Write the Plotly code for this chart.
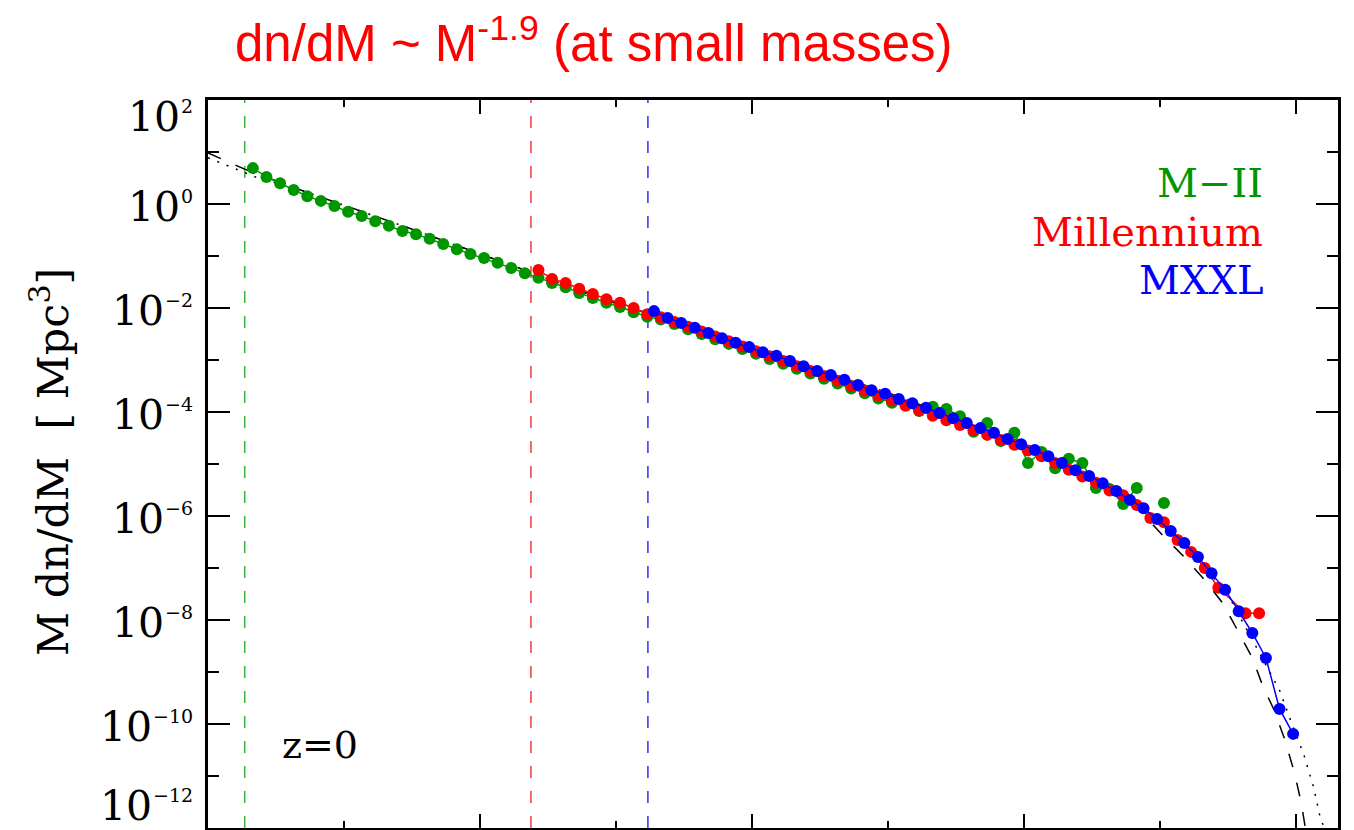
import plotly.graph_objects as go

# ---------------- data (log10 values) ----------------
green_logM = [8.33, 8.43, 8.53, 8.63, 8.73, 8.83, 8.93, 9.03, 9.13, 9.23, 9.33, 9.43,
              9.53, 9.63, 9.73, 9.83, 9.93, 10.03, 10.13, 10.23, 10.33, 10.43, 10.53, 10.63,
              10.73, 10.83, 10.93, 11.03, 11.13, 11.23, 11.33, 11.43, 11.53, 11.63, 11.73,
              11.83, 11.93, 12.03, 12.13, 12.23, 12.33, 12.43, 12.53, 12.63, 12.73, 12.83,
              12.93, 13.03, 13.13, 13.23, 13.33, 13.43, 13.53, 13.63, 13.73, 13.83, 13.93,
              14.03, 14.13, 14.23, 14.33, 14.43, 14.53, 14.63, 14.73, 14.83, 14.93, 15.03]
green_logy = [0.69, 0.52, 0.40, 0.27, 0.15, 0.06, -0.04, -0.15, -0.23, -0.33, -0.42, -0.52,
              -0.58, -0.67, -0.77, -0.87, -0.96, -1.04, -1.13, -1.23, -1.33, -1.42, -1.52, -1.60,
              -1.71, -1.81, -1.90, -1.98, -2.08, -2.17, -2.22, -2.31, -2.41, -2.50, -2.60,
              -2.69, -2.79, -2.88, -2.98, -3.07, -3.17, -3.26, -3.36, -3.45, -3.55, -3.64,
              -3.74, -3.82, -3.87, -3.98, -3.90, -3.94, -4.08, -4.38, -4.21, -4.56, -4.40,
              -4.98, -4.77, -5.08, -4.90, -4.98, -5.46, -5.48, -5.77, -5.46, None, -5.75]

red_logM = [10.43, 10.53, 10.63, 10.73, 10.83, 10.93, 11.03, 11.13, 11.23, 11.33, 11.43,
            11.53, 11.63, 11.73, 11.83, 11.93, 12.03, 12.13, 12.23, 12.33, 12.43, 12.53,
            12.63, 12.73, 12.83, 12.93, 13.03, 13.13, 13.23, 13.33, 13.43, 13.53, 13.63,
            13.73, 13.83, 13.93, 14.03, 14.13, 14.23, 14.33, 14.43, 14.53, 14.63, 14.73,
            14.83, 14.93, 15.03, 15.13, 15.23, 15.33, 15.43, 15.63, 15.73]
red_logy = [-1.27, -1.44, -1.52, -1.63, -1.73, -1.83, -1.90, -2.00, -2.12, -2.18, -2.27,
            -2.36, -2.45, -2.55, -2.64, -2.74, -2.83, -2.93, -3.02, -3.12, -3.21, -3.31,
            -3.40, -3.50, -3.59, -3.69, -3.78, -3.88, -3.97, -4.07, -4.16, -4.25, -4.35,
            -4.44, -4.54, -4.63, -4.74, -4.85, -4.98, -5.11, -5.24, -5.36, -5.51, -5.60,
            -5.79, -6.04, -6.12, -6.46, -6.69, -7.00, -7.38, -7.87, -7.87]

blue_logM = [11.28, 11.38, 11.48, 11.58, 11.68, 11.78, 11.88, 11.98, 12.08, 12.18, 12.28,
             12.38, 12.48, 12.58, 12.68, 12.78, 12.88, 12.98, 13.08, 13.18, 13.28, 13.38,
             13.48, 13.58, 13.68, 13.78, 13.88, 13.98, 14.08, 14.18, 14.28, 14.38, 14.48,
             14.58, 14.68, 14.78, 14.88, 14.98, 15.08, 15.18, 15.28, 15.38, 15.48, 15.58,
             15.68, 15.78, 15.88, 15.98]
blue_logy = [-2.06, -2.19, -2.29, -2.38, -2.48, -2.58, -2.67, -2.75, -2.85, -2.92, -3.02,
             -3.12, -3.21, -3.29, -3.38, -3.48, -3.58, -3.65, -3.75, -3.83, -3.92, -4.02,
             -4.12, -4.21, -4.31, -4.40, -4.52, -4.62, -4.73, -4.85, -4.98, -5.12, -5.23,
             -5.37, -5.52, -5.69, -5.85, -6.06, -6.29, -6.52, -6.79, -7.10, -7.42, -7.83,
             -8.25, -8.73, -9.71, -10.19]

# fitted curves (dashed and dotted black)
dashed_logM = [8.00, 8.27, 8.68, 9.41, 10.15, 10.88, 11.62, 12.35, 13.09, 13.82, 14.19, 14.56,
               14.87, 15.02, 15.18, 15.33, 15.46, 15.57, 15.68, 15.76, 15.84, 15.92, 15.99,
               16.04, 16.07]
dashed_logy = [0.98, 0.67, 0.27, -0.40, -1.10, -1.81, -2.42, -3.06, -3.71, -4.46, -4.87, -5.31,
               -5.94, -6.37, -6.79, -7.23, -7.67, -8.19, -8.73, -9.29, -9.73, -10.31, -10.94,
               -11.52, -12.00]
dotted_logM = [8.00, 8.35, 8.68, 9.41, 10.15, 10.88, 11.62, 12.35, 13.09, 13.82, 14.56, 14.87,
               15.18, 15.49, 15.68, 15.88, 15.96, 16.06, 16.13, 16.18, 16.21]
dotted_logy = [0.89, 0.52, 0.27, -0.40, -1.10, -1.81, -2.42, -3.06, -3.71, -4.46, -5.33, -5.85,
               -6.56, -7.46, -8.39, -9.35, -9.92, -10.60, -11.21, -11.81, -12.00]

# resolution limits (vertical dashed lines), log10 M
limit_logM = [8.27, 10.375, 11.235]
limit_colors = ["#3cb43c", "#f03c3c", "#3232f0"]

series_names = ["M\u2212II", "Millennium", "MXXL"]
series_colors = ["#009600", "#ff0000", "#0000ff"]

y_tick_exps = [2, 0, -2, -4, -6, -8, -10, -12]
y_minor_exps = [1, -1, -3, -5, -7, -9, -11]
x_major_exps = [8, 10, 12, 14, 16]
x_minor_exps = [9, 11, 13, 15]

XR = [8.0, 16.31]
YR = [-12.0, 2.0]

# ---------------- figure ----------------
OFF = 8                      # page body margin of the browser
W, H = 1346, 822
L, R, T, B = 200, 16, 92, 2
PW, PH = W - L - R, H - T - B


def px2paper_x(px):          # px given in window coordinates
    return (px - OFF - L) / PW


def px2paper_y(py):
    return (H - B - (py - OFF)) / PH


def tolin(vals):
    return [None if v is None else 10 ** v for v in vals]


fig = go.Figure()

for lm, col in zip(limit_logM, limit_colors):
    fig.add_trace(go.Scatter(x=[10 ** lm, 10 ** lm], y=[10 ** YR[0], 10 ** YR[1]], mode="lines",
                             line=dict(color=col, width=1.5, dash="12px,13px"),
                             hoverinfo="skip", showlegend=False))

fig.add_trace(go.Scatter(x=tolin(dashed_logM), y=tolin(dashed_logy), mode="lines",
                         line=dict(color="black", width=1.5, dash="14px,16px"),
                         showlegend=False))
fig.add_trace(go.Scatter(x=tolin(dotted_logM), y=tolin(dotted_logy), mode="lines",
                         line=dict(color="black", width=1.5, dash="2px,8px"),
                         showlegend=False))

for lm, ly, name, col in zip([green_logM, red_logM, blue_logM],
                             [green_logy, red_logy, blue_logy],
                             series_names, series_colors):
    fig.add_trace(go.Scatter(x=tolin(lm), y=tolin(ly), mode="lines+markers", name=name,
                             line=dict(color=col, width=1.5),
                             marker=dict(color=col, size=12, line=dict(width=0)),
                             connectgaps=False, showlegend=False))

axis_common = dict(type="log", showgrid=False, zeroline=False, showline=True,
                   linecolor="black", linewidth=2.5, mirror="ticks", ticks="inside",
                   tickcolor="black", tickwidth=2, showticklabels=False, tickmode="array")

fig.update_xaxes(range=XR, tickvals=[10 ** e for e in x_major_exps], ticklen=14,
                 minor=dict(tickmode="array", tickvals=[10 ** e for e in x_minor_exps],
                            ticklen=7, tickwidth=2, tickcolor="black", ticks="inside"),
                 **axis_common)
fig.update_yaxes(range=YR, tickvals=[10 ** e for e in y_tick_exps], ticklen=22,
                 minor=dict(tickmode="array", tickvals=[10 ** e for e in y_minor_exps],
                            ticklen=11, tickwidth=2, tickcolor="black", ticks="inside"),
                 **axis_common)

annotations = []
serif = "DejaVu Serif"
EXP_SIZE = 19
BASE_SIZE = 41
LABEL_RIGHT = 195            # right edge of the whole tick label (window px)
TOP_PX, BOT_PX = 100, 828    # plot top / bottom in window px


def exp_width(txt):
    w = 0.0
    for ch in txt:
        w += 0.838 if ch == "\u2212" else 0.636
    return w * EXP_SIZE


for e in y_tick_exps:
    tick_py = TOP_PX + (YR[1] - e) / (YR[1] - YR[0]) * (BOT_PX - TOP_PX)
    base_py = min(max(tick_py + 3, TOP_PX + 17), BOT_PX - 22)
    exp_txt = str(e).replace("-", "\u2212")
    ew = exp_width(exp_txt)
    annotations.append(dict(text=exp_txt, xref="paper", yref="paper",
                            x=px2paper_x(LABEL_RIGHT), y=px2paper_y(base_py - 11),
                            xanchor="right", yanchor="middle", showarrow=False,
                            font=dict(family=serif, size=EXP_SIZE, color="black")))
    annotations.append(dict(text="10", xref="paper", yref="paper",
                            x=px2paper_x(LABEL_RIGHT - ew - 1), y=px2paper_y(base_py),
                            xanchor="right", yanchor="middle", showarrow=False,
                            font=dict(family=serif, size=BASE_SIZE, color="black")))

# y axis title
annotations.append(dict(text="M\u00a0dn/dM\u00a0\u00a0[\u00a0Mpc<sup>3</sup>]", xref="paper",
                        yref="paper", x=px2paper_x(50), y=px2paper_y(462), textangle=-90,
                        xanchor="center", yanchor="middle", showarrow=False,
                        font=dict(family=serif, size=43, color="black")))

# legend-like labels
for name, col, py in zip(series_names, series_colors, [183, 232, 280]):
    annotations.append(dict(text=name, xref="paper", yref="paper", x=px2paper_x(1265),
                            y=px2paper_y(py), xanchor="right", yanchor="middle",
                            showarrow=False, font=dict(family=serif, size=40, color=col)))

annotations.append(dict(text="z=0", xref="paper", yref="paper", x=px2paper_x(280),
                        y=px2paper_y(745), xanchor="left", yanchor="middle", showarrow=False,
                        font=dict(family=serif, size=38, color="black")))

annotations.append(dict(text="dn/dM ~ M<sup>-1.9</sup> (at small masses)", xref="paper",
                        yref="paper", x=px2paper_x(233), y=px2paper_y(40), xanchor="left",
                        yanchor="middle", showarrow=False,
                        font=dict(family="Liberation Sans", size=51, color="#ff0000")))

fig.update_layout(width=W, height=H, margin=dict(l=L, r=R, t=T, b=B, autoexpand=False),
                  plot_bgcolor="white", paper_bgcolor="white", showlegend=False,
                  annotations=annotations)

fig.write_html("out.html")
